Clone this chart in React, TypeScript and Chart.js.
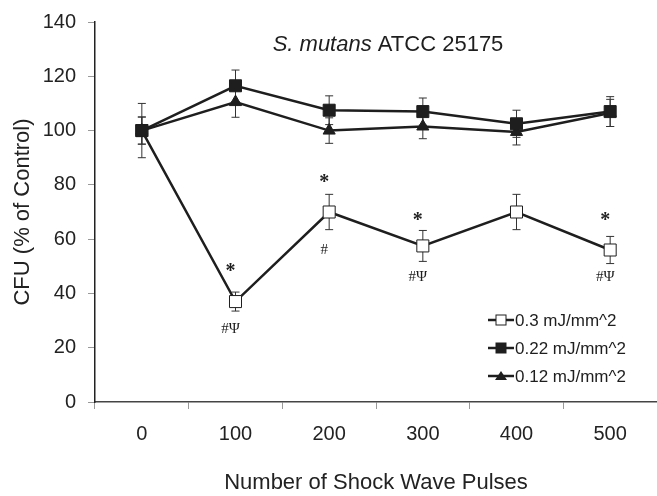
import React, { useEffect, useRef } from "react";
import { Chart, registerables } from "chart.js";

Chart.register(...registerables);

const categories = ["0", "100", "200", "300", "400", "500"];
const seriesLabels = ["0.3 mJ/mm^2", "0.22 mJ/mm^2", "0.12 mJ/mm^2"];
const values03 = [100, 37, 70, 57.5, 70, 56];
const values022 = [100, 116.5, 107.5, 107, 102.5, 107];
const values012 = [100, 110.5, 100, 101.5, 99.5, 106.5];
const err03 = [10, 3.5, 6.5, 5.7, 6.5, 5];
const err022 = [5, 5.8, 5.3, 5, 5, 5.5];
const err012 = [5, 5.6, 4.7, 4.5, 4.8, 5];
const yTicks = [0, 20, 40, 60, 80, 100, 120, 140];
// significance annotations: category index, y value, text
const annIndex = [1, 1, 2, 2, 3, 3, 5, 5];
const annValue = [49, 27, 82, 56, 68, 46, 68, 46];
const annText = ["*", "#Ψ", "*", "#", "*", "#Ψ", "*", "#Ψ"];
const titleItalic = "S. mutans";
const titleRest = " ATCC 25175";
const xTitle = "Number of Shock Wave Pulses";
const yTitle = "CFU (% of Control)";

const INK = "#1e1e1e";
const SANS = "'Liberation Sans', Arial, sans-serif";
const SERIF = "'Liberation Serif', 'DejaVu Serif', serif";

const overlay = {
  id: "overlay",
  beforeDatasetsDraw(chart: any) {
    const ctx = chart.ctx;
    const x = chart.scales.x;
    const y = chart.scales.y;
    ctx.save();
    ctx.strokeStyle = "#333";
    ctx.lineWidth = 1;
    chart.data.datasets.forEach((ds: any) => {
      ds.data.forEach((v: number, i: number) => {
        const e = ds.errors[i];
        const px = x.getPixelForValue(i);
        const top = y.getPixelForValue(v + e);
        const bot = y.getPixelForValue(v - e);
        ctx.beginPath();
        ctx.moveTo(px, top);
        ctx.lineTo(px, bot);
        ctx.moveTo(px - 4, top);
        ctx.lineTo(px + 4, top);
        ctx.moveTo(px - 4, bot);
        ctx.lineTo(px + 4, bot);
        ctx.stroke();
      });
    });
    ctx.restore();
  },
  afterDraw(chart: any) {
    const ctx = chart.ctx;
    const x = chart.scales.x;
    const y = chart.scales.y;
    ctx.save();
    // annotations
    ctx.fillStyle = INK;
    ctx.textAlign = "center";
    ctx.textBaseline = "middle";
    annText.forEach((t, k) => {
      const px = x.getPixelForValue(annIndex[k]) - 5;
      const py = y.getPixelForValue(annValue[k]);
      ctx.font = t === "*" ? `bold 20px ${SERIF}` : `15px ${SERIF}`;
      ctx.fillText(t, px, t === "*" ? py + 3 : py);
    });
    // title
    ctx.font = `italic 22px ${SANS}`;
    const w1 = ctx.measureText(titleItalic).width;
    ctx.font = `22px ${SANS}`;
    const w2 = ctx.measureText(titleRest).width;
    const cx = 388;
    const startX = cx - (w1 + w2) / 2;
    ctx.textAlign = "left";
    ctx.font = `italic 22px ${SANS}`;
    ctx.fillText(titleItalic, startX, 45);
    ctx.font = `22px ${SANS}`;
    ctx.fillText(titleRest, startX + w1, 45);
    // legend
    const lx = 488;
    const ly = [320, 348, 376];
    chart.data.datasets.forEach((ds: any, i: number) => {
      const yy = ly[i];
      ctx.strokeStyle = INK;
      ctx.lineWidth = 2.5;
      ctx.beginPath();
      ctx.moveTo(lx, yy);
      ctx.lineTo(lx + 26, yy);
      ctx.stroke();
      const mx = lx + 13;
      ctx.lineWidth = 1;
      ctx.fillStyle = ds.pointBackgroundColor;
      if (ds.pointStyle === "triangle") {
        ctx.beginPath();
        ctx.moveTo(mx, yy - 5);
        ctx.lineTo(mx + 6, yy + 4);
        ctx.lineTo(mx - 6, yy + 4);
        ctx.closePath();
        ctx.fill();
      } else {
        ctx.fillRect(mx - 5, yy - 5, 10, 10);
        ctx.strokeRect(mx - 5, yy - 5, 10, 10);
      }
      ctx.fillStyle = INK;
      ctx.font = `17px ${SANS}`;
      ctx.textAlign = "left";
      ctx.fillText(ds.label, lx + 27, yy + 1);
    });
    ctx.restore();
  },
};

export default function App() {
  const ref = useRef<HTMLCanvasElement | null>(null);
  useEffect(() => {
    if (!ref.current) return;
    const mk = (
      label: string,
      data: number[],
      errors: number[],
      style: string,
      fill: string,
      radius: number,
      order: number
    ) => ({
      label,
      data,
      errors,
      borderColor: INK,
      borderWidth: 2.5,
      pointStyle: style,
      pointRadius: radius,
      pointHoverRadius: radius,
      pointBackgroundColor: fill,
      pointBorderColor: INK,
      pointBorderWidth: 1,
      order,
      tension: 0,
      clip: false,
    });
    const chart = new Chart(ref.current, {
      type: "line",
      data: {
        labels: categories,
        datasets: [
          mk(seriesLabels[0], values03, err03, "rect", "#ffffff", 8.5, 2),
          mk(seriesLabels[1], values022, err022, "rect", INK, 8.5, 0),
          mk(seriesLabels[2], values012, err012, "triangle", INK, 7, 1),
        ] as any,
      },
      options: {
        animation: false,
        responsive: false,
        maintainAspectRatio: false,
        layout: { autoPadding: false, padding: { left: 8, right: 0, top: 22, bottom: 0 } },
        plugins: { legend: { display: false }, tooltip: { enabled: false } },
        scales: {
          x: {
            type: "category",
            offset: true,
            grid: {
              offset: true,
              drawOnChartArea: false,
              drawTicks: true,
              tickLength: 7,
              color: "#999",
            },
            border: { display: true, color: "#444", width: 1.5 },
            ticks: {
              color: "#222",
              font: { family: SANS, size: 20 },
              padding: 13,
            },
            title: {
              display: true,
              text: xTitle,
              color: "#222",
              font: { family: SANS, size: 22 },
              padding: { top: 4, bottom: 0 },
            },
            afterFit: (s: any) => {
              s.height = 94;
              s.paddingLeft = 0;
              s.paddingRight = 0;
            },
          },
          y: {
            min: 0,
            max: 140,
            afterBuildTicks: (s: any) => {
              s.ticks = yTicks.map((v) => ({ value: v }));
            },
            grid: {
              drawOnChartArea: false,
              drawTicks: true,
              tickLength: 7,
              color: "#999",
            },
            border: { display: true, color: "#222", width: 1.5 },
            ticks: {
              color: "#222",
              font: { family: SANS, size: 20 },
              padding: 12,
            },
            title: {
              display: true,
              text: yTitle,
              color: "#222",
              font: { family: SANS, size: 22 },
              padding: { top: 2, bottom: 4 },
            },
            afterFit: (s: any) => {
              s.width = 87;
              s.paddingTop = 0;
              s.paddingBottom = 0;
            },
          },
        },
      },
      plugins: [overlay],
    });
    return () => chart.destroy();
  }, []);
  return (
    <div style={{ position: "fixed", left: 0, top: 0, width: 657, height: 496, background: "#fff" }}>
      <canvas ref={ref} width={657} height={496} />
    </div>
  );
}
